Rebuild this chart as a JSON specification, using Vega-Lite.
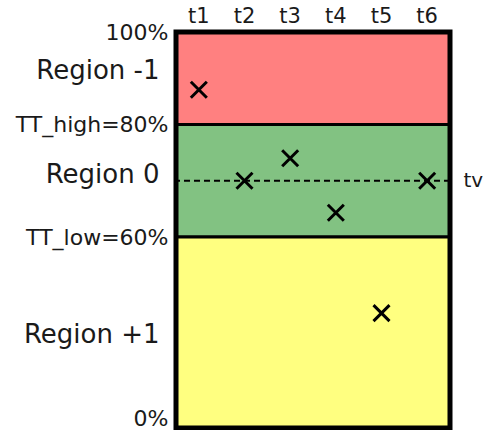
{
  "$schema": "https://vega.github.io/schema/vega-lite/v6.json",
  "autosize": {"type": "none"},
  "padding": {"left": 176, "top": 32, "right": 35, "bottom": 2},
  "width": 274,
  "height": 396,
  "background": "white",
  "config": {
    "view": {"stroke": null},
    "font": "DejaVu Sans",
    "axis": {"labelFont": "DejaVu Sans", "labelColor": "#1a1a1a", "grid": false, "domain": false, "ticks": false, "title": null, "labelOverlap": false, "labelBound": false}
  },
  "datasets": {
    "regions": [
      {"region": "Region -1", "low": 80, "high": 100},
      {"region": "Region 0", "low": 60, "high": 80},
      {"region": "Region +1", "low": 0, "high": 60}
    ],
    "points": [
      {"t": "t1", "value": 87.5},
      {"t": "t2", "value": 70},
      {"t": "t3", "value": 74},
      {"t": "t4", "value": 64.3},
      {"t": "t5", "value": 36.1},
      {"t": "t6", "value": 70}
    ],
    "target": [{"name": "tv", "value": 70}],
    "frame": [{"low": 0, "high": 100}]
  },
  "resolve": {"axis": {"y": "independent"}},
  "layer": [
    {
      "data": {"name": "regions"},
      "mark": {"type": "rect", "stroke": "black", "strokeWidth": 3},
      "encoding": {
        "y": {
          "field": "high", "type": "quantitative",
          "scale": {"domain": [0, 60, 80, 100], "range": [396, 205, 92.5, 0], "nice": false, "zero": false},
          "axis": {
            "orient": "left",
            "values": [0, 29.5, 60, 71.1, 80, 91.7, 100],
            "labelExpr": "datum.value == 100 ? '100%' : datum.value == 91.7 ? 'Region -1' : datum.value == 80 ? 'TT_high=80%' : datum.value == 71.1 ? 'Region 0' : datum.value == 60 ? 'TT_low=60%' : datum.value == 29.5 ? 'Region +1' : '0%'",
            "labelFontSize": {"condition": {"test": "datum.value == 91.7 || datum.value == 71.1 || datum.value == 29.5", "value": 26}, "value": 22},
            "labelPadding": {"condition": {"test": "datum.value == 91.7 || datum.value == 71.1 || datum.value == 29.5", "value": 17}, "value": 8},
            "labelOffset": {"condition": {"test": "datum.value == 0", "value": -10}, "value": 0}
          }
        },
        "y2": {"field": "low"},
        "color": {
          "field": "region", "type": "nominal", "legend": null,
          "scale": {"domain": ["Region -1", "Region 0", "Region +1"], "range": ["#ff8080", "#82c282", "#ffff80"]}
        }
      }
    },
    {
      "data": {"name": "target"},
      "mark": {"type": "rule", "stroke": "black", "strokeWidth": 2, "strokeDash": [6, 4]},
      "encoding": {
        "y": {
          "field": "value", "type": "quantitative",
          "axis": {"orient": "right", "values": [70], "labelExpr": "'tv'", "labelFontSize": 20, "labelPadding": 13}
        }
      }
    },
    {
      "data": {"name": "frame"},
      "mark": {"type": "rect", "fill": null, "fillOpacity": 0, "stroke": "black", "strokeWidth": 5},
      "encoding": {
        "y": {"field": "high", "type": "quantitative", "axis": null},
        "y2": {"field": "low"}
      }
    },
    {
      "data": {"name": "points"},
      "mark": {"type": "point", "shape": "M-1,-1L1,1M-1,1L1,-1", "filled": false, "stroke": "black", "strokeWidth": 3, "size": 256, "opacity": 1},
      "encoding": {
        "x": {
          "field": "t", "type": "nominal",
          "scale": {"type": "band", "paddingInner": 0, "paddingOuter": 0},
          "axis": {"orient": "top", "labelAngle": 0, "labelFontSize": 21, "labelPadding": 6}
        },
        "y": {"field": "value", "type": "quantitative", "axis": null}
      }
    }
  ]
}
